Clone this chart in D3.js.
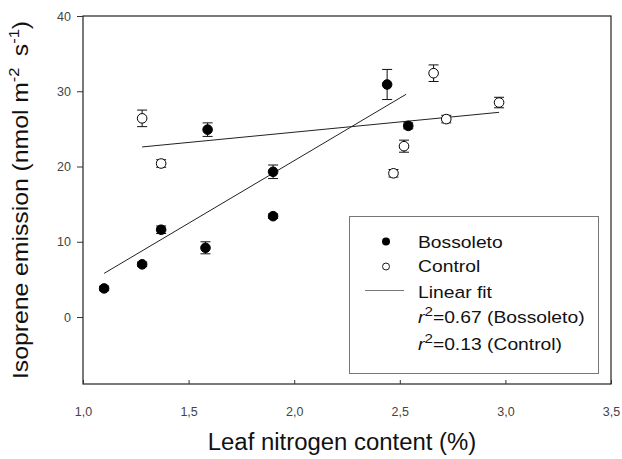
<!DOCTYPE html>
<html><head><meta charset="utf-8">
<script src="https://cdn.jsdelivr.net/npm/d3@7"></script>
<style>body{margin:0;background:#fff}svg{display:block;font-family:Arial,"Liberation Sans",sans-serif}</style>
</head><body><svg id="c" width="622" height="459"></svg>
<script>
const bossoletoX = [1.10, 1.28, 1.37, 1.58, 1.59, 1.90, 1.90, 2.44, 2.54];
const bossoletoY = [3.8, 7.0, 11.6, 9.2, 24.9, 19.3, 13.4, 30.9, 25.4];
const bossoletoErr = [0.3, 0.3, 0.5, 0.8, 0.9, 0.9, 0.3, 2.0, 0.4];
const controlX = [1.28, 1.37, 2.47, 2.52, 2.66, 2.72, 2.97];
const controlY = [26.4, 20.4, 19.1, 22.7, 32.4, 26.3, 28.5];
const controlErr = [1.1, 0.5, 0.5, 0.8, 1.1, 0.5, 0.7];
const bossoletoFitX = [1.10, 2.53];
const bossoletoFitY = [5.8, 29.6];
const controlFitX = [1.28, 2.97];
const controlFitY = [22.6, 27.2];
const xTicks = [1.0, 1.5, 2.0, 2.5, 3.0, 3.5];
const yTicks = [0, 10, 20, 30, 40];

const svg = d3.select("#c");
const L = 83, R = 611, T = 16, B = 384;
const x = d3.scaleLinear().domain([1.0, 3.5]).range([L, R]);
const y = d3.scaleLinear().domain([-8.9, 40]).range([B, T]);

// frame
svg.append("rect").attr("x", L).attr("y", T).attr("width", R - L).attr("height", B - T)
  .attr("fill", "none").attr("stroke", "#222").attr("stroke-width", 1.2);

// axes
const yAxis = d3.axisLeft(y).tickValues(yTicks).tickSize(6).tickPadding(6).tickFormat(d3.format("d"));
const gy = svg.append("g").attr("transform", `translate(${L},0)`).call(yAxis);
const xAxis = d3.axisBottom(x).tickValues(xTicks).tickSize(-4).tickPadding(23).tickFormat(d => d3.format(".1f")(d).replace(".", ","));
const gx = svg.append("g").attr("transform", `translate(0,${B})`).call(xAxis);
[gx, gy].forEach(g => {
  g.select(".domain").remove();
  g.selectAll(".tick line").attr("stroke", "#333");
  g.selectAll(".tick text").attr("fill", "#444").style("font-size", "12.5px").style("font-family", "Arial, 'Liberation Sans', sans-serif");
});

// fit lines
const line = d3.line().x(d => x(d[0])).y(d => y(d[1]));
svg.append("path").attr("d", line(d3.zip(bossoletoFitX, bossoletoFitY))).attr("stroke", "#222").attr("stroke-width", 1).attr("fill", "none");
svg.append("path").attr("d", line(d3.zip(controlFitX, controlFitY))).attr("stroke", "#222").attr("stroke-width", 1).attr("fill", "none");

function drawSeries(xs, ys, es, filled) {
  const data = d3.range(xs.length).map(i => ({x: xs[i], y: ys[i], e: es[i]}));
  const g = svg.append("g");
  const eb = g.selectAll("g.eb").data(data).join("g").attr("stroke", "#111").attr("stroke-width", 1);
  eb.append("line").attr("x1", d => x(d.x)).attr("x2", d => x(d.x)).attr("y1", d => y(d.y + d.e)).attr("y2", d => y(d.y - d.e));
  eb.append("line").attr("x1", d => x(d.x) - 5).attr("x2", d => x(d.x) + 5).attr("y1", d => y(d.y + d.e)).attr("y2", d => y(d.y + d.e));
  eb.append("line").attr("x1", d => x(d.x) - 5).attr("x2", d => x(d.x) + 5).attr("y1", d => y(d.y - d.e)).attr("y2", d => y(d.y - d.e));
  g.selectAll("circle").data(data).join("circle")
    .attr("cx", d => x(d.x)).attr("cy", d => y(d.y)).attr("r", 4.8)
    .attr("fill", filled ? "#000" : "#fff").attr("stroke", "#000").attr("stroke-width", 1);
}
drawSeries(controlX, controlY, controlErr, false);
drawSeries(bossoletoX, bossoletoY, bossoletoErr, true);

// legend
svg.append("rect").attr("x", 349.5).attr("y", 216.5).attr("width", 249).attr("height", 157)
  .attr("fill", "#fff").attr("stroke", "#777").attr("stroke-width", 1);
svg.append("circle").attr("cx", 386).attr("cy", 241.5).attr("r", 4).attr("fill", "#000");
svg.append("circle").attr("cx", 386).attr("cy", 266.5).attr("r", 3.5).attr("fill", "#fff").attr("stroke", "#000").attr("stroke-width", 0.9);
svg.append("line").attr("x1", 365).attr("x2", 404).attr("y1", 290.5).attr("y2", 290.5).attr("stroke", "#777").attr("stroke-width", 1.2);
const lt = svg.append("g").attr("transform", "translate(418,0) scale(1.17,1)").style("font-size", "16.5px").attr("fill", "#111");
lt.append("text").attr("x", 0).attr("y", 248).text("Bossoleto");
lt.append("text").attr("x", 0).attr("y", 272).text("Control");
lt.append("text").attr("x", 0).attr("y", 298).text("Linear fit");
const r1 = lt.append("text").attr("x", 0).attr("y", 323.5);
r1.append("tspan").style("font-style", "italic").text("r");
r1.append("tspan").attr("dy", -7).style("font-size", "13px").text("2");
r1.append("tspan").attr("dy", 7).text("=0.67 (Bossoleto)");
const r2 = lt.append("text").attr("x", 0).attr("y", 350);
r2.append("tspan").style("font-style", "italic").text("r");
r2.append("tspan").attr("dy", -7).style("font-size", "13px").text("2");
r2.append("tspan").attr("dy", 7).text("=0.13 (Control)");

// axis titles
svg.append("text").attr("transform", "translate(342,450) scale(1.04,1)").attr("text-anchor", "middle")
  .style("font-size", "23px").attr("fill", "#111").text("Leaf nitrogen content (%)");
const yt = svg.append("text").attr("transform", "translate(28,200) rotate(-90) scale(1.1,1)").attr("text-anchor", "middle")
  .style("font-size", "22.5px").attr("fill", "#111");
yt.append("tspan").text("Isoprene emission (nmol m");
yt.append("tspan").attr("dy", -9).style("font-size", "15px").text("-2");
yt.append("tspan").attr("dx", 4).attr("dy", 9).text(" s");
yt.append("tspan").attr("dy", -9).style("font-size", "15px").text("-1");
yt.append("tspan").attr("dy", 9).text(")");
</script></body></html>
